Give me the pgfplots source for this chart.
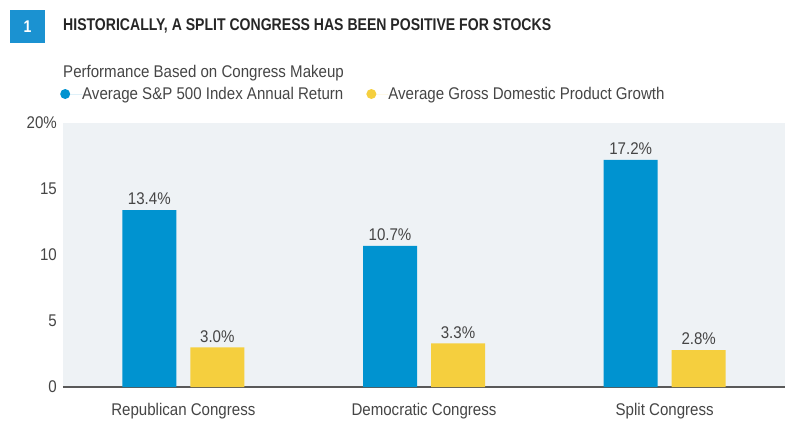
\documentclass[border=0pt]{standalone}
\usepackage{fontspec}
\setmainfont{Liberation Sans}[FakeStretch=0.89, BoldFeatures={FakeStretch=0.83}]
\usepackage{pgfplots}
\pgfplotsset{compat=1.18}
\definecolor{sblue}{HTML}{0093D0}
\definecolor{syellow}{HTML}{F5CF3E}
\definecolor{bggray}{HTML}{EEF2F5}
\definecolor{txt}{HTML}{454545}
\definecolor{boxblue}{HTML}{1B92D1}
\newcommand{\fs}{\fontsize{17}{17}\selectfont}
\begin{document}
\begin{tikzpicture}[x=1bp,y=1bp]
\useasboundingbox (-63,-41) rectangle (740,387);
\fill[boxblue] (-53,344) rectangle (-18,377);
\node[white,font=\fontsize{17}{17}\selectfont\bfseries] at (-35.5,360.5) {1};
\node[anchor=base west, inner sep=0pt, font=\fs\bfseries, text=black!85] at (0,357) {HISTORICALLY, A SPLIT CONGRESS HAS BEEN POSITIVE FOR STOCKS};
\node[anchor=base west, inner sep=0pt, font=\fs, text=txt] at (0,310) {Performance Based on Congress Makeup};
\begin{axis}[
  at={(0,0)}, anchor=south west,
  scale only axis, width=722bp, height=264bp,
  ybar=14bp, bar width=54bp,
  xmin=-0.5, xmax=2.5, ymin=0, ymax=20,
  xtick={0,1,2}, xticklabels={Republican Congress, Democratic Congress, Split Congress},
  ytick={0,5,10,15,20}, yticklabels={0,5,10,15,20\%},
  axis lines*=left,
  y axis line style={draw=none},
  x axis line style={draw=black!65, line width=1.3bp},
  major tick length=0pt,
  axis background/.style={fill=bggray},
  /pgf/number format/assume math mode=true,
  tick label style={font=\fs, text=txt},
  yticklabel style={inner sep=0pt, xshift=-6bp},
  xticklabel style={inner sep=0pt, yshift=-16bp},
  nodes near coords={\pgfmathprintnumber[fixed,fixed zerofill,precision=1]{\pgfplotspointmeta}\%},
  nodes near coords style={font=\fs, text=txt, inner sep=0pt, anchor=south, yshift=5bp},
  legend columns=2,
  legend style={at={(0,1)}, anchor=west, xshift=-3bp, yshift=29bp, draw=none, fill=none,
    inner sep=0pt, font=\fs, text=txt, nodes={inner sep=0pt}, column sep=0pt,
    /tikz/every even column/.append style={column sep=23bp}},
  clip=false,
]
\addplot[fill=sblue, draw=none, legend image code/.code={\fill[sblue] (5bp,0bp) circle[radius=5bp]; \path (0bp,0bp) -- (22bp,0bp);}]
  coordinates {(0,13.4) (1,10.7) (2,17.2)};
\addlegendentry{Average S\&P 500 Index Annual Return}
\addplot[fill=syellow, draw=none, legend image code/.code={\fill[syellow] (5bp,0bp) circle[radius=5bp]; \path (0bp,0bp) -- (22bp,0bp);}]
  coordinates {(0,3.0) (1,3.3) (2,2.8)};
\addlegendentry{Average Gross Domestic Product Growth}
\end{axis}
\end{tikzpicture}
\end{document}
